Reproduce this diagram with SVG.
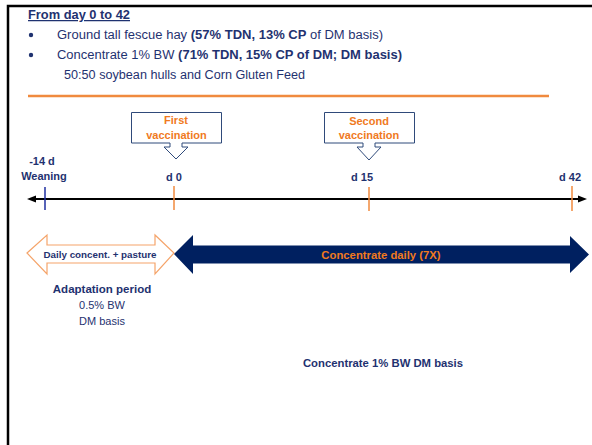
<svg xmlns="http://www.w3.org/2000/svg" width="592" height="445" viewBox="0 0 592 445">
<style>
text{font-family:"Liberation Sans",Arial,sans-serif;fill:#1F3270}
.b{font-weight:bold}
.h{font-size:12.5px}
.o{fill:#F07A1E;font-weight:bold}
.lbl{font-size:11px;font-weight:bold;text-anchor:middle}
.m{text-anchor:middle}
</style>
<rect width="592" height="445" fill="#fff"/>
<path d="M8 445 V6 H592" fill="none" stroke="#000" stroke-width="2.5"/>
<g id="header">
<text x="28" y="19" class="b" font-size="12.5" text-decoration="underline" textLength="102" lengthAdjust="spacingAndGlyphs">From day 0 to 42</text>
<circle cx="31" cy="35" r="2.2" fill="#1F3270"/>
<circle cx="31" cy="55" r="2.2" fill="#1F3270"/>
<text x="57" y="39" class="h" textLength="326" lengthAdjust="spacingAndGlyphs">Ground tall fescue hay <tspan class="b">(57% TDN, 13% CP</tspan> of DM basis)</text>
<text x="57" y="59" class="h" textLength="345" lengthAdjust="spacingAndGlyphs">Concentrate 1% BW <tspan class="b">(71% TDN, 15% CP of DM; DM basis)</tspan></text>
<text x="64" y="79" class="h" textLength="241" lengthAdjust="spacingAndGlyphs">50:50 soybean hulls and Corn Gluten Feed</text>
<line x1="28" y1="96" x2="549" y2="96" stroke="#F08A3E" stroke-width="2.5"/>
</g>
<g id="connectors">
<line x1="33" y1="199" x2="580" y2="199" stroke="#000" stroke-width="2"/>
<path d="M27 199 L36 195.5 L36 202.5 Z" fill="#000"/>
<path d="M587 199 L578 195.5 L578 202.5 Z" fill="#000"/>
<line x1="45" y1="187" x2="45" y2="210" stroke="#1F2FA0" stroke-width="1.5"/>
<line x1="174" y1="186" x2="174" y2="210" stroke="#F08A3E" stroke-width="1.5"/>
<line x1="369" y1="187" x2="369" y2="211" stroke="#F08A3E" stroke-width="1.5"/>
<line x1="572" y1="186" x2="572" y2="211" stroke="#F08A3E" stroke-width="1.5"/>
</g>
<g id="first-vaccination">
<path d="M131.5 112.5 H221.5 V143 H182 V147 H188 L176 159 L164 147 H170 V143 H131.5 Z" fill="#fff" stroke="#2F4A7A" stroke-width="1"/>
<text x="176" y="124" class="o m" font-size="11">First</text>
<text x="176.5" y="139" class="o m" font-size="11">vaccination</text>
</g>
<g id="second-vaccination">
<path d="M324.5 112.5 H414.5 V143 H375 V147 H381 L369 160 L357 147 H363 V143 H324.5 Z" fill="#fff" stroke="#2F4A7A" stroke-width="1"/>
<text x="369" y="125" class="o m" font-size="11">Second</text>
<text x="369" y="139" class="o m" font-size="11">vaccination</text>
</g>
<g id="weaning">
<text x="42" y="165" class="lbl">-14 d</text>
<text x="44" y="180" class="lbl" font-size="11.5">Weaning</text>
</g>
<g id="d0"><text x="174" y="181" class="lbl">d 0</text></g>
<g id="d15"><text x="362" y="181" class="lbl">d 15</text></g>
<g id="d42"><text x="570" y="181" class="lbl">d 42</text></g>
<g id="adaptation-arrow">
<path d="M27 253 L47 235 V245 H155 V235 L174 253 L155 274 V263 H47 V274 Z" fill="#fff" stroke="#F5A46A" stroke-width="1.2"/>
<text x="100" y="257.5" class="b m" font-size="9.8">Daily concent. + pasture</text>
</g>
<g id="concentrate-arrow">
<path d="M174 254 L193 235 V245.5 H570 V236 L589 254.5 L570 273 V263.5 H193 V274 Z" fill="#002060"/>
<text x="381" y="258.5" class="o m" font-size="11.3">Concentrate daily (7X)</text>
</g>
<g id="adaptation">
<text x="102" y="293" class="b m" font-size="11.5">Adaptation period</text>
<text x="102" y="309" class="m" font-size="11">0.5% BW</text>
<text x="102" y="325" class="m" font-size="11">DM basis</text>
</g>
<g id="concentrate-note">
<text x="383" y="367" class="b m" font-size="11.3">Concentrate 1% BW DM basis</text>
</g>
</svg>
